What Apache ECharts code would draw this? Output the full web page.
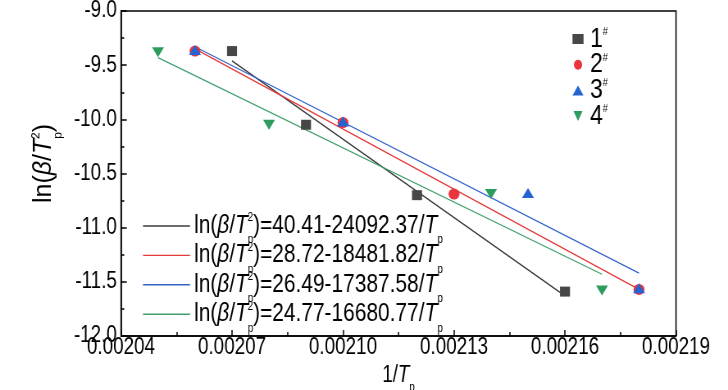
<!DOCTYPE html>
<html><head><meta charset="utf-8">
<script src="https://cdn.jsdelivr.net/npm/echarts@6/dist/echarts.min.js"></script>
<style>
html,body{margin:0;padding:0;background:#fff;overflow:hidden}
#wrap{width:728px;height:390px;overflow:hidden}
#c{width:888px;height:390px;transform:scaleX(0.81982);transform-origin:0 0}
</style>
</head><body><div id="wrap"><div id="c"></div></div>
<script>
// scatter data
var s1X = [0.00207, 0.00209, 0.00212, 0.00216];
var s1Y = [-9.37, -10.05, -10.70, -11.59];
var s2X = [0.00206, 0.00210, 0.00213, 0.00218];
var s2Y = [-9.37, -10.03, -10.69, -11.57];
var s3X = [0.00206, 0.00210, 0.00215, 0.00218];
var s3Y = [-9.36, -10.02, -10.68, -11.56];
var s4X = [0.00205, 0.00208, 0.00214, 0.00217];
var s4Y = [-9.38, -10.05, -10.69, -11.58];
// fitted line end points
var f1X = [0.00207, 0.00216], f1Y = [-9.46, -11.63];
var f2X = [0.00206, 0.00218], f2Y = [-9.35, -11.57];
var f3X = [0.00206, 0.00218], f3Y = [-9.33, -11.42];
var f4X = [0.00205, 0.00217], f4Y = [-9.43, -11.43];
var sampleNames = ['1', '2', '3', '4'];
var fitNames = ['f1', 'f2', 'f3', 'f4'];
var fitA = ['40.41', '28.72', '26.49', '24.77'];
var fitB = ['24092.37', '18481.82', '17387.58', '16680.77'];

var K = 0.81982; // horizontal condensing of the whole drawing (narrow font look)
var FONT = '"Liberation Sans",Arial,sans-serif';
function zip(xs, ys) { return xs.map(function (x, i) { return [x, ys[i]]; }); }
var colors = ['#474747', '#e8353e', '#2463d2', '#2e9c5e'];
var lineColors = ['#3a3a3a', '#e33a3a', '#3563c9', '#3f9f6b'];
var symbols = ['rect', 'circle', 'triangle', 'path://M0,0L10,0L5,9Z'];
var sX = [s1X, s2X, s3X, s4X], sY = [s1Y, s2Y, s3Y, s4Y];
var fX = [f1X, f2X, f3X, f4X], fY = [f1Y, f2Y, f3Y, f4Y];
var sizes = [[10 / K, 10], [11 / K, 11], [12 / K, 10], [12 / K, 10]];

var series = [];
for (var i = 0; i < 4; i++) {
  series.push({
    name: fitNames[i], type: 'line', symbol: 'none', data: zip(fX[i], fY[i]),
    lineStyle: { color: lineColors[i], width: 1.3 }, itemStyle: { color: lineColors[i] }, z: 2
  });
}
for (var j = 0; j < 4; j++) {
  series.push({
    name: sampleNames[j], type: 'scatter', symbol: symbols[j], symbolSize: sizes[j],
    data: zip(sX[j], sY[j]), itemStyle: { color: colors[j], opacity: 1 }, z: 3 + j
  });
}

function makeRich(fs) {
  return {
    t: { fontFamily: FONT, fontSize: fs, color: '#000', lineHeight: 40 },
    i: { fontFamily: FONT, fontSize: fs, color: '#000', fontStyle: 'italic', lineHeight: 40 },
    sub: { fontFamily: FONT, fontSize: 12, color: '#000', verticalAlign: 'bottom', lineHeight: 16 },
    sup: { fontFamily: FONT, fontSize: 12, color: '#000', verticalAlign: 'top', lineHeight: 30, padding: [6, 0, 0, -7] }
  };
}
function eqText(k) {
  return '{t|ln(}{i|β}{t|/}{i|T}{sub|p}{sup|2}{t|)=' + fitA[k] + '-' + fitB[k] + '/}{i|T}{sub|p}';
}

var chart = echarts.init(document.getElementById('c'));
chart.setOption({
  animation: false,
  backgroundColor: '#fff',
  grid: { left: 121 / K, right: 52 / K, top: 11, bottom: 54, outerBoundsMode: 'none',
    show: true, borderColor: '#000', borderWidth: 1.5 },
  xAxis: {
    type: 'value', min: 0.00204, max: 0.00219, interval: 0.00003,
    name: '{n|1/}{i|T}{sub|p}', nameLocation: 'middle', nameGap: 13,
    nameTextStyle: { rich: {
      n: { fontFamily: FONT, fontSize: 23, color: '#000', lineHeight: 36 },
      i: { fontFamily: FONT, fontSize: 23, color: '#000', fontStyle: 'italic', lineHeight: 36 },
      sub: { fontFamily: FONT, fontSize: 12, color: '#000', verticalAlign: 'bottom', lineHeight: 14 }
    } },
    axisLine: { lineStyle: { color: '#000', width: 1.5 } },
    axisTick: { inside: true, length: 6, lineStyle: { color: '#000', width: 1.5 } },
    minorTick: { show: true, splitNumber: 2, length: 4, lineStyle: { color: '#000', width: 1.5 } },
    splitLine: { show: false },
    axisLabel: { fontFamily: FONT, fontSize: 23, color: '#000', margin: 0,
      formatter: function (v) { return v.toFixed(5); } }
  },
  yAxis: {
    type: 'value', min: -12, max: -9, interval: 0.5,
    axisLine: { show: true, lineStyle: { color: '#000', width: 1.5 } },
    axisTick: { show: true, inside: true, length: 7, lineStyle: { color: '#000', width: 1.5 } },
    minorTick: { show: true, splitNumber: 2, length: 4, lineStyle: { color: '#000', width: 1.5 } },
    splitLine: { show: false },
    axisLabel: { fontFamily: FONT, fontSize: 23, color: '#000', margin: 5,
      formatter: function (v) { return v.toFixed(1); } }
  },
  legend: [
    {
      data: sampleNames, orient: 'vertical', left: 572.5 / K - 5, top: 20, itemGap: -2.3,
      itemWidth: 11 / K, itemHeight: 10,
      formatter: function (n) { return '{n|' + n + '}{s|#}'; },
      textStyle: { padding: [0, 0, 0, 3], rich: {
        n: { fontFamily: FONT, fontSize: 28, color: '#000', lineHeight: 25 },
        s: { fontFamily: FONT, fontSize: 11, color: '#000', verticalAlign: 'top', lineHeight: 11 }
      } }
    },
    {
      data: fitNames, orient: 'vertical', left: 143 / K - 5, top: 201, itemGap: -10.6,
      icon: 'rect', itemWidth: 47 / K, itemHeight: 1.4,
      formatter: function (n) { return eqText(fitNames.indexOf(n)); },
      textStyle: { rich: makeRich(25.5) }
    }
  ],
  graphic: [{
    type: 'text', x: 44 / K, y: 163.5, rotation: Math.PI / 2, scaleX: 1, scaleY: 1 / K,
    style: {
      text: '{t|ln(}{i|β}{t|/}{i|T}{sub|p}{sup|2}{t|)}',
      rich: makeRich(25), align: 'center', verticalAlign: 'middle'
    }
  }],
  series: series
});
</script></body></html>
